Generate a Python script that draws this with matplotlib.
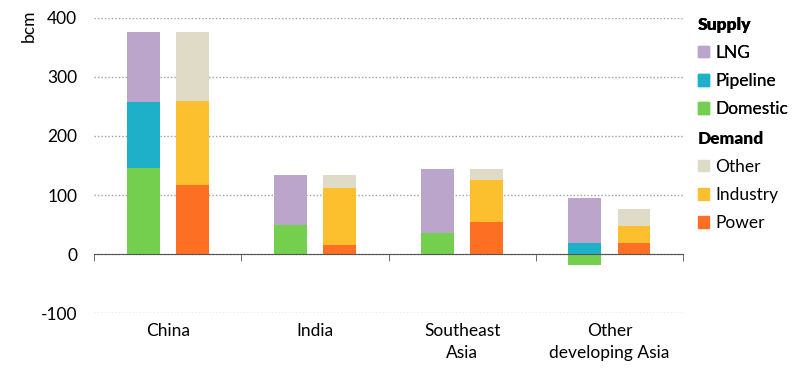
import matplotlib
matplotlib.use("Agg")
import matplotlib.pyplot as plt
from matplotlib.patches import Patch
import numpy as np

plt.rcParams['font.family'] = ['Lato', 'DejaVu Sans']

categories = ["China", "India", "Southeast\nAsia", "Other\ndeveloping Asia"]
# Supply (bcm)
domestic = [146, 49, 35, -19]
pipeline = [112, 0, 0, 19]
lng = [119, 85, 109, 76]
# Demand (bcm)
power = [117, 16, 55, 19]
industry = [143, 96, 70, 29]
other = [117, 22, 19, 29]

yticks = [-100, 0, 100, 200, 300, 400]

c_lng = "#BBA5CB"
c_pipe = "#1EB0C8"
c_dom = "#74CF4E"
c_other = "#E0DBC6"
c_ind = "#FCBF2E"
c_pow = "#FD7024"

FS = 12.5

fig = plt.figure(figsize=(8, 3.74), dpi=100)
ax = fig.add_axes([0.1175, 0.163, 0.7363, 0.789])

x = np.arange(len(categories))
off = 0.167
w = 0.224

dom = np.array(domestic, float)
pipe = np.array(pipeline, float)
lngv = np.array(lng, float)
pos_dom = np.clip(dom, 0, None)
ax.bar(x - off, dom, w, color=c_dom, zorder=3)
ax.bar(x - off, pipe, w, bottom=pos_dom, color=c_pipe, zorder=3)
ax.bar(x - off, lngv, w, bottom=pos_dom + pipe, color=c_lng, zorder=3)

pw = np.array(power, float)
ind = np.array(industry, float)
oth = np.array(other, float)
ax.bar(x + off, pw, w, color=c_pow, zorder=3)
ax.bar(x + off, ind, w, bottom=pw, color=c_ind, zorder=3)
ax.bar(x + off, oth, w, bottom=pw + ind, color=c_other, zorder=3)

ax.set_xlim(-0.5, len(categories) - 0.5)
ax.set_ylim(-100, 400)
ax.set_yticks(yticks)
ax.set_yticklabels([str(v) for v in yticks], fontsize=FS)
ax.tick_params(axis='y', length=0, pad=12)
ax.yaxis.grid(True, linestyle=(0, (1, 1.5)), color="#A0A0A0", linewidth=1, zorder=0)
ax.set_axisbelow(True)

for s in ['top', 'right', 'left']:
    ax.spines[s].set_visible(False)
ax.spines['bottom'].set_position(('data', 0))
ax.spines['bottom'].set_color("#555555")
ax.spines['bottom'].set_zorder(4)

ax.set_xticks(x)
ax.set_xticklabels(categories, fontsize=FS, linespacing=1.4)
ax.tick_params(axis='x', which='major', length=0, pad=50)
ax.set_xticks(np.arange(len(categories) + 1) - 0.5, minor=True)
ax.tick_params(axis='x', which='minor', length=5, direction='out', color="#555555")

fig.text(0.036, 0.93, "bcm", rotation=90, va='center', ha='center', fontsize=FS)

sup_h = [Patch(color=c_lng), Patch(color=c_pipe), Patch(color=c_dom)]
dem_h = [Patch(color=c_other), Patch(color=c_ind), Patch(color=c_pow)]
common = dict(loc='upper left', frameon=False, fontsize=FS, alignment='left',
              handlelength=0.65, handleheight=0.65, handletextpad=0.35,
              labelspacing=0.7, borderpad=0.2, borderaxespad=0)
leg1 = fig.legend(sup_h, ["LNG", "Pipeline", "Domestic"],
                  bbox_to_anchor=(0.868, 0.965),
                  title="Supply", title_fontproperties={'weight': 'heavy', 'size': FS},
                  **common)
fig.add_artist(leg1)
leg2 = fig.legend(dem_h, ["Other", "Industry", "Power"],
                  bbox_to_anchor=(0.868, 0.66),
                  title="Demand", title_fontproperties={'weight': 'heavy', 'size': FS},
                  **common)

fig.savefig("out.png", dpi=100)
